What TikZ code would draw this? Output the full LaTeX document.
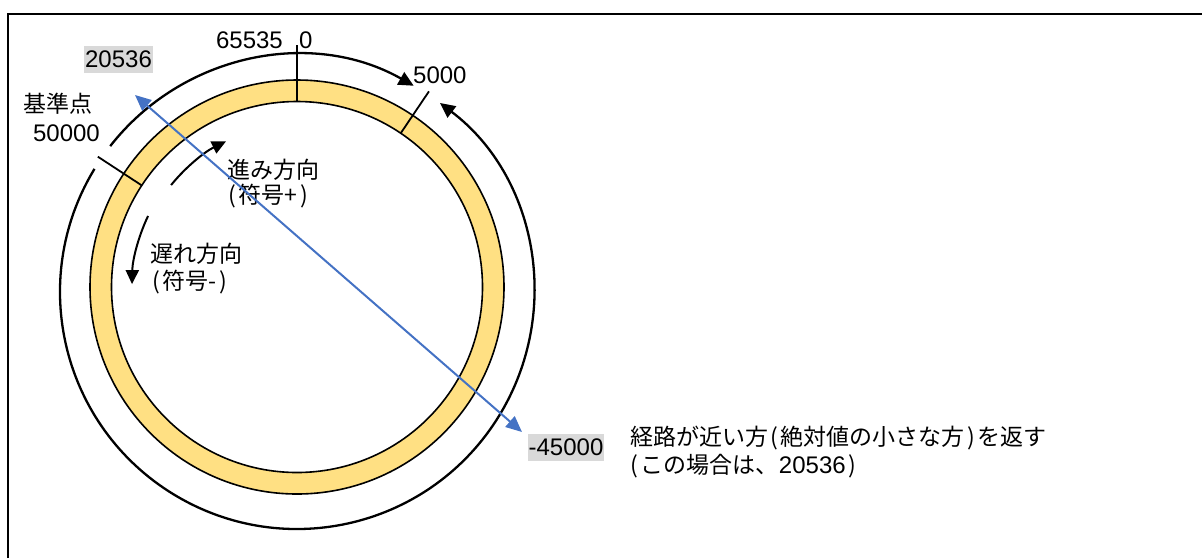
\documentclass[tikz,border=0pt]{standalone}
\usepackage{fontspec}
\setmainfont{Liberation Sans}
\newfontfamily\jp{Noto Sans CJK JP}
\usetikzlibrary{arrows.meta,calc}
\definecolor{ringfill}{HTML}{FFE083}
\definecolor{blueline}{HTML}{4472C4}
\definecolor{graybox}{HTML}{D9D9D9}
\newcommand{\jlp}{\kern2pt(\kern3pt}
\newcommand{\jrp}{\kern3pt)\kern2pt}
\begin{document}
\begin{tikzpicture}[x=1pt,y=1pt,
  numlbl/.style={inner sep=0pt, font=\fontsize{24}{28}\selectfont},
  jlbl/.style={inner sep=0pt, font=\fontsize{23}{28}\selectfont\jp},
  gbox/.style={fill=graybox, inner xsep=1pt, inner ysep=0pt, minimum height=27pt, font=\fontsize{24}{28}\selectfont},
  tickline/.style={line width=1.8pt},
  ringline/.style={line width=1.6pt},
  arcarrow/.style={line width=2.3pt, -{Triangle[length=15pt,width=14pt]}},
  smallarrow/.style={line width=2pt, -{Triangle[length=14pt,width=13pt]}},
  bluearrow/.style={draw=blueline, line width=2pt, {Triangle[length=16pt,width=14pt]}-{Triangle[length=16pt,width=14pt]}, blueline}
]
\useasboundingbox (0,0) rectangle (1202,-558);
% frame (top and left edges visible)
\draw[line width=1.6pt] (8,-558) -- (8,-14) -- (1202,-14);

\coordinate (C) at (297,-287);
\coordinate (C2) at (297,-292);

% yellow ring
\fill[ringfill, even odd rule] (C) circle[radius=207] (C) circle[radius=185.5];
\draw[ringline] (C) circle[radius=207];
\draw[ringline] (C) circle[radius=185.5];

% ticks
\draw[tickline] ($(C)+(90:185.5)$) -- ($(C)+(90:242)$);
\draw[tickline] ($(C)+(56:185.5)$) -- ($(C)+(56:236)$);
\draw[tickline] ($(C)+(146.8:185.5)$) -- ($(C)+(146.8:238)$);

% outer arcs
\draw[arcarrow] ($(C2)+(142:237)$) arc[start angle=142, end angle=60.5, radius=237];
\draw[arcarrow] ($(C2)+(148.7:237)$) arc[start angle=148.7, end angle=412.9, radius=237];

% inner direction arrows
\draw[smallarrow] ($(C)+(141:162)$) arc[start angle=141, end angle=116, radius=162];
\draw[smallarrow] ($(C)+(154.5:165)$) arc[start angle=154.5, end angle=179, radius=165];

% labels
\node[numlbl, anchor=east] (l65535) at (283,-40.5) {65535};
\node[numlbl, anchor=west] (l0) at (299,-40.5) {0};
\node[numlbl, anchor=west] (l5000) at (413,-75) {5000};
\node[gbox] (l20536) at (118.5,-59.5) {20536};
\node[gbox] (l45000) at (566,-447) {-45000};
\node[jlbl, anchor=west] (kijun) at (23,-104) {基準点};
\node[numlbl, anchor=east] (l50000) at (100,-133) {50000};
\node[jlbl, anchor=west] (susumi) at (227,-170) {進み方向};
\node[jlbl, anchor=west] (plus) at (226,-196) {\jlp 符号+\jrp};
\node[jlbl, anchor=west] (okure) at (150,-254) {遅れ方向};
\node[jlbl, anchor=west] (minus) at (150,-282) {\jlp 符号-\jrp};
\node[jlbl, anchor=west] (note1) at (630,-438) {経路が近い方\jlp 絶対値の小さな方\jrp を返す};
\node[jlbl, anchor=west] (note2) at (628,-466) {\jlp この場合は、{\fontsize{24}{28}\selectfont\rmfamily 20536}\jrp};

% blue double arrow
\coordinate (bs) at (135,-95);
\coordinate (be) at (522,-432);
\draw[bluearrow] (bs) -- (be);
\end{tikzpicture}
\end{document}
